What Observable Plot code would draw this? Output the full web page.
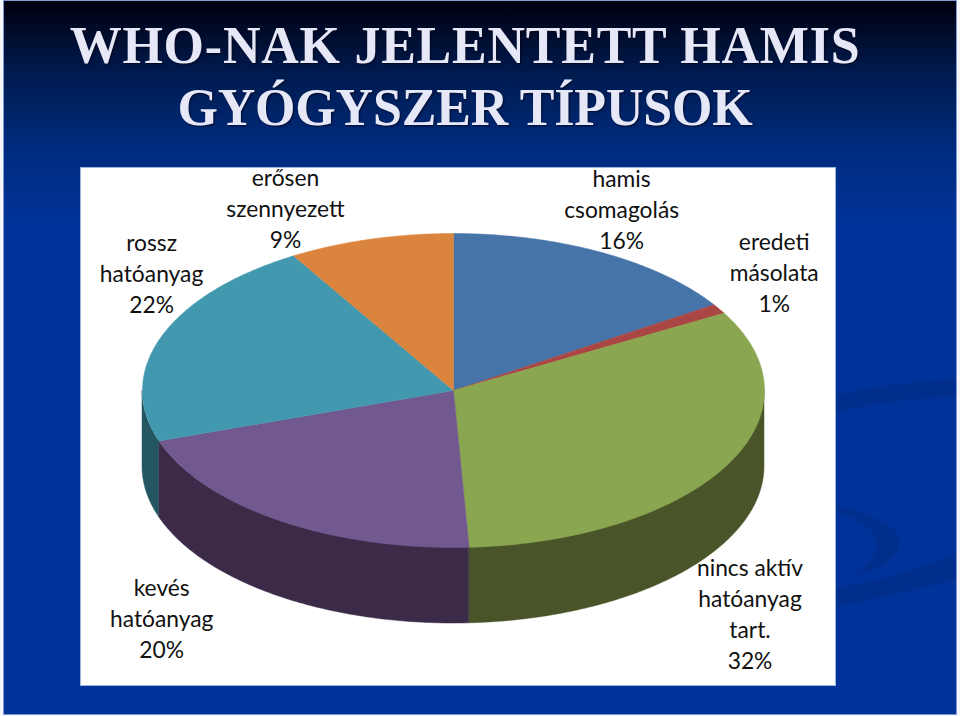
<!DOCTYPE html>
<html lang="hu">
<head>
<meta charset="utf-8">
<script src="https://cdn.jsdelivr.net/npm/d3@7"></script>
<script src="https://cdn.jsdelivr.net/npm/@observablehq/plot@0.6"></script>
<style>
  html, body { margin: 0; padding: 0; background: #f4f6fb; width: 960px; height: 716px; overflow: hidden; }
  #slide { position: absolute; left: 4px; top: 1px; width: 952px; height: 713px; overflow: hidden;
    background: linear-gradient(to bottom, #00000f 0px, #001a4d 70px, #002c80 150px, #003399 225px, #003399 100%);
    box-shadow: 0 0 0 1px #7f9ad0; }
  #deco { position: absolute; left: 0; top: 0; }
  h1 { position: absolute; left: 0; top: 14px; width: 922px; margin: 0; text-align: center;
    font: bold 52px/62px "Liberation Serif", serif; color: #e6e8f8; letter-spacing: -0.2px;
    text-shadow: 1px 1px 2px rgba(0,0,20,.7); }
  h1 span { letter-spacing: 0.75px; }
  #panel { position: absolute; left: 77px; top: 167px; width: 754px; height: 517px; background: #fff;
    box-shadow: 0 0 0 1px #9db6e0; }
  #panel svg { display: block; background: #fff; }
</style>
</head>
<body>
<div id="slide">
  <svg id="deco" width="952" height="713" fill="#002e8c">
    <path d="M828 395 C 870 385, 920 380, 952 378 L 952 396 C 920 396, 870 402, 828 412 Z"/>
    <path d="M828 504 C 880 515, 905 532, 892 552 C 882 566, 865 572, 850 575 C 870 560, 880 545, 865 528 C 855 518, 840 512, 828 510 Z"/>
    <path d="M828 588 C 870 580, 915 570, 952 553 L 952 578 C 915 588, 870 598, 828 606 Z"/>
  </svg>
  <h1><span>WHO-NAK JELENTETT HAMIS</span><br>GYÓGYSZER TÍPUSOK</h1>
</div>
<script>
const categories = ["hamis csomagolás", "eredeti másolata", "nincs aktív hatóanyag tart.", "kevés hatóanyag", "rossz hatóanyag", "erősen szennyezett"];
// printed percentages
const percents = [16, 1, 32, 20, 22, 9];
// wedge shares as measured on the drawn (tilted) pie
const shares = [15.8, 1.0, 32.4, 20.6, 21.6, 8.6];
const labelLines = [
  ["hamis", "csomagolás"],
  ["eredeti", "másolata"],
  ["nincs aktív", "hatóanyag", "tart."],
  ["kevés", "hatóanyag"],
  ["rossz", "hatóanyag"],
  ["erősen", "szennyezett"]
];
const topColors = ["#4674a8", "#aa4643", "#8ba650", "#71588f", "#4198af", "#da843e"];
const wallColors = ["#2a4565", "#662a28", "#4a5429", "#3b2b49", "#245661", "#83501f"];
const labelOffsets = [[20, -44.5], [55, -37.5], [24, 146.5], [-117, 96.5], [-10, -64.5], [-85, -32.5]];

const total = d3.sum(shares);
const depth = 76 / 157;
const at = (frac) => [Math.sin(frac * 2 * Math.PI), Math.cos(frac * 2 * Math.PI)];

let cum = 0;
const slices = categories.map((category, i) => {
  const start = cum / total;
  cum += shares[i];
  return {category, wall: category + " (oldal)", start, end: cum / total, mid: (start + cum / total) / 2, i};
});

const sampleArc = (a, b) => {
  const n = Math.max(2, Math.ceil((b - a) * 720));
  return d3.range(n + 1).map((k) => a + (b - a) * k / n);
};

const topPoints = slices.flatMap((s) => [
  {category: s.category, x: 0, y: 0},
  ...sampleArc(s.start, s.end).map((f) => { const [x, y] = at(f); return {category: s.category, x, y}; }),
  {category: s.category, x: 0, y: 0}
]);

const wallPoints = slices.flatMap((s) => {
  const a = Math.max(s.start, 0.25), b = Math.min(s.end, 0.75);
  if (b <= a) return [];
  return sampleArc(a, b).map((f) => { const [x, y] = at(f); return {wall: s.wall, x, y, y2: y - depth}; });
});

const labelMarks = slices.map((s) => {
  const [x, y] = at(s.mid);
  return Plot.text([{x, y, text: [...labelLines[s.i], percents[s.i] + "%"].join("\n")}], {
    x: "x", y: "y", text: "text",
    dx: labelOffsets[s.i][0], dy: labelOffsets[s.i][1],
    fontSize: 22.8, lineHeight: 1.36, fill: "#111", fontFamily: "Lato, Carlito, sans-serif",
    textAnchor: "middle", lineAnchor: "middle"
  });
});

const chart = Plot.plot({
  width: 754, height: 517,
  margin: 0,
  style: {background: "#fff", overflow: "visible"},
  x: {domain: [-1, 1], range: [61, 683], axis: null},
  y: {domain: [1, -1], range: [65, 379], axis: null},
  color: {
    domain: [...slices.map((s) => s.category), ...slices.map((s) => s.wall)],
    range: [...topColors, ...wallColors]
  },
  marks: [
    Plot.area(wallPoints, {x1: "x", y1: "y", y2: "y2", z: "wall", fill: "wall", stroke: "wall", strokeWidth: 0.5}),
    Plot.line(topPoints, {x: "x", y: "y", z: "category", fill: "category", stroke: "category", strokeWidth: 0.5, curve: "linear"}),
    ...labelMarks
  ]
});
const panel = document.createElement("div");
panel.id = "panel";
panel.appendChild(chart);
document.getElementById("slide").appendChild(panel);
</script>
</body>
</html>
